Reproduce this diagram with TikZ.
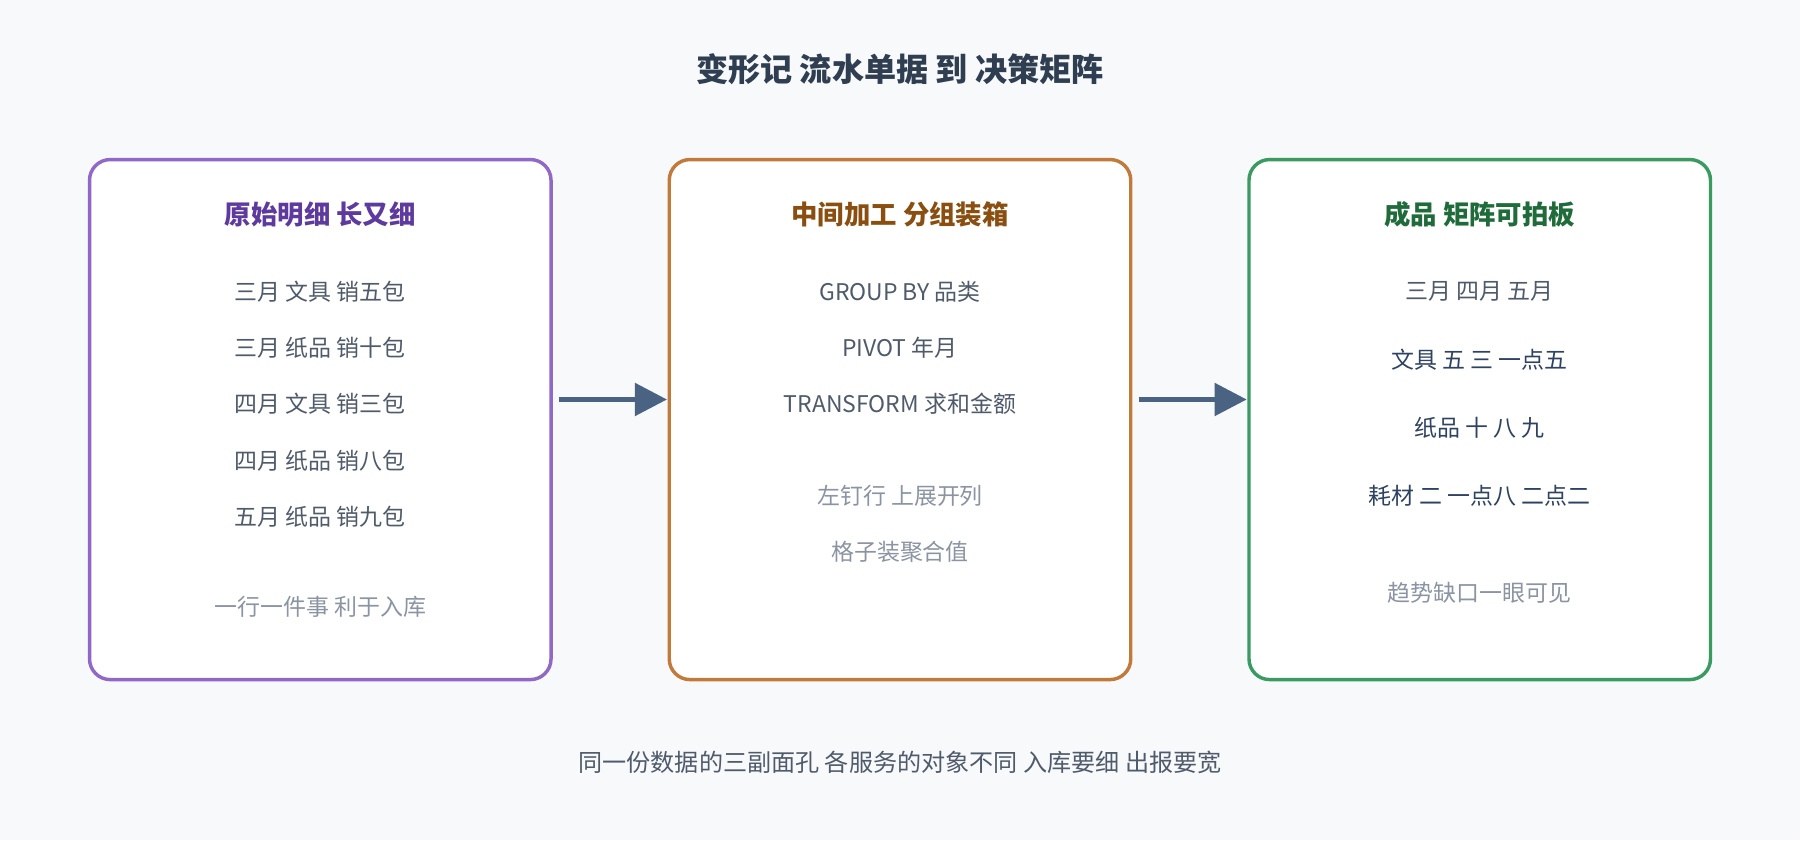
\documentclass[tikz,border=0pt]{standalone}
\usepackage{fontspec}
\setmainfont{Noto Sans CJK SC}
\usetikzlibrary{arrows.meta}
\definecolor{bg}{HTML}{F7F9FA}
\definecolor{ttl}{HTML}{2F3E50}
\definecolor{txt}{HTML}{4F5B6B}
\definecolor{dim}{HTML}{8A94A3}
\definecolor{pur}{HTML}{9068C8}\definecolor{purt}{HTML}{5E3A9E}
\definecolor{ora}{HTML}{C27A3A}\definecolor{orat}{HTML}{8A4F10}
\definecolor{grn}{HTML}{3A9A62}\definecolor{grnt}{HTML}{1F6B3A}
\definecolor{arr}{HTML}{4A6382}
\definecolor{blu}{HTML}{2E4262}
\begin{document}
\begin{tikzpicture}[x=0.5pt,y=-0.5pt,
 box/.style={line width=1.5pt,rounded corners=9pt,fill=white},
 hd/.style={font=\fontsize{11.5}{13}\selectfont\bfseries},
 ln/.style={font=\fontsize{10}{12}\selectfont,text=txt},
 lb/.style={font=\fontsize{10}{12}\selectfont,text=blu},
 nt/.style={font=\fontsize{10}{12}\selectfont,text=dim},
 ar/.style={draw=arr,line width=2.2pt,-{Triangle[length=14pt,width=14pt]}}]
\fill[bg] (0,0) rectangle (1568,732);
\node[font=\fontsize{14}{16}\selectfont\bfseries,text=ttl] (t) at (784,60) {变形记 流水单据 到 决策矩阵};
\draw[box,draw=pur] (78,139) rectangle (480,592);
\draw[box,draw=ora] (583,139) rectangle (985,592);
\draw[box,draw=grn] (1088,139) rectangle (1490,592);
\node[hd,text=purt] (h1) at (279,187) {原始明细 长又细};
\node[ln] (a1) at (279,254) {三月 文具 销五包};
\node[ln] (a2) at (279,303) {三月 纸品 销十包};
\node[ln] (a3) at (279,352) {四月 文具 销三包};
\node[ln] (a4) at (279,401) {四月 纸品 销八包};
\node[ln] (a5) at (279,450) {五月 纸品 销九包};
\node[nt] (a6) at (279,529) {一行一件事 利于入库};
\node[hd,text=orat] (h2) at (784,187) {中间加工 分组装箱};
\node[ln] (c1) at (784,254) {GROUP BY 品类};
\node[ln] (c2) at (784,303) {PIVOT 年月};
\node[ln] (c3) at (784,352) {TRANSFORM 求和金额};
\node[nt] (c4) at (784,432) {左钉行 上展开列};
\node[nt] (c5) at (784,481) {格子装聚合值};
\node[hd,text=grnt] (h3) at (1289,187) {成品 矩阵可拍板};
\node[ln] (d1) at (1289,254) {三月 四月 五月};
\node[lb] (d2) at (1289,313) {文具 五 三 一点五};
\node[lb] (d3) at (1289,373) {纸品 十 八 九};
\node[lb] (d4) at (1289,432) {耗材 二 一点八 二点二};
\node[nt] (d5) at (1289,516) {趋势缺口一眼可见};
\node[font=\fontsize{10.5}{12}\selectfont,text=txt] (f) at (784,664) {同一份数据的三副面孔 各服务的对象不同 入库要细 出报要宽};
\coordinate (p1) at (487,348);\coordinate (q1) at (581,348);
\coordinate (p2) at (992,348);\coordinate (q2) at (1086,348);
\draw[ar] (p1) -- (q1);
\draw[ar] (p2) -- (q2);
\end{tikzpicture}
\end{document}
